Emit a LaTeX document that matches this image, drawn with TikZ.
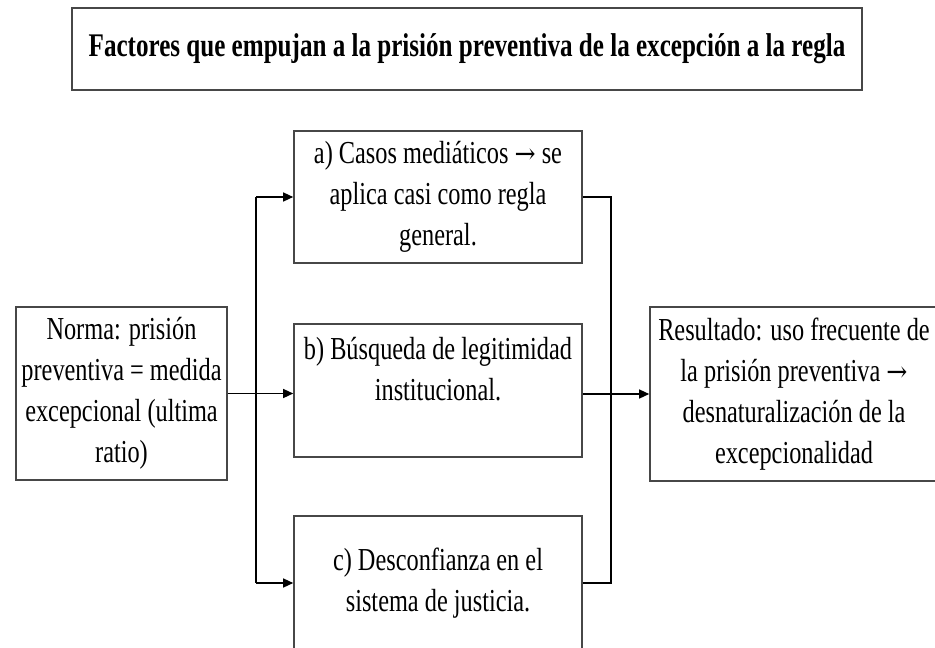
\documentclass[tikz,border=0pt]{standalone}
\usepackage{fontspec}
\setmainfont{Liberation Serif}[FakeStretch=0.76]
\newfontfamily\arwfont{DejaVu Serif}[FakeStretch=0.9]
\newcommand{\myarw}{{\arwfont\fontsize{28}{41}\selectfont →}}
\usetikzlibrary{arrows.meta}
\begin{document}
\begin{tikzpicture}[x=1pt,y=-1pt,
  box/.style={draw=black!72,line width=1.6pt,inner sep=0pt,align=center,
    font=\fontsize{32}{41}\selectfont},
  con/.style={draw=black,line width=1.3pt},
  arr/.style={con,-{Triangle[length=10pt,width=9pt]}}]
\useasboundingbox (0,0) rectangle (935,648);
\clip (0,0) rectangle (935,648);
\fill[white] (0,0) rectangle (935,648);
\node[box,minimum width=790pt,minimum height=82pt,
  font=\bfseries\fontsize{33}{40}\selectfont] (title) at (467,49)
  {Factores que empujan a la prisión preventiva de la excepción a la regla};
\node[box,minimum width=211pt,minimum height=173pt] (L) at (121.5,393.5)
  {Norma: prisión\\preventiva = medida\\excepcional (ultima\\ratio)};
\node[box,minimum width=288pt,minimum height=132pt] (a) at (438,197)
  {a) Casos mediáticos \myarw{} se\\aplica casi como regla\\general.};
\node[box,minimum width=288pt,minimum height=133pt] (b) at (438,390.5)
  {b) Búsqueda de legitimidad\\institucional.\\[2pt]};
\node[box,minimum width=288pt,minimum height=134pt] (c) at (438,583)
  {c) Desconfianza en el\\sistema de justicia.};
\node[box,minimum width=288pt,minimum height=174pt] (R) at (794,394)
  {Resultado: uso frecuente de\\la prisión preventiva \myarw\\desnaturalización de la\\excepcionalidad};
\coordinate (jt) at (256,197);
\coordinate (jb) at (256,583);
\coordinate (kt) at (611,197);
\coordinate (kb) at (611,583);
\draw[con] (jt) -- (jb);
\draw[arr] (jt) -- (jt -| a.west);
\draw[arr] (jb) -- (jb -| c.west);
\draw[arr] (L.east) -- (L.east -| b.west);
\draw[con] (a.east |- kt) -- (kt) -- (kb) -- (kb -| c.east);
\draw[arr] (b.east |- R.west) -- (R.west);
\end{tikzpicture}
\end{document}
